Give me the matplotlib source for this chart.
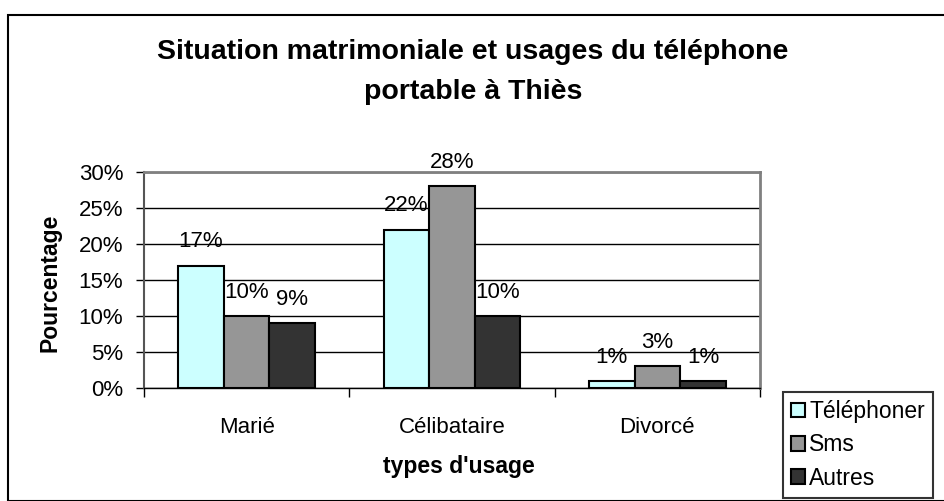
import matplotlib
matplotlib.use("Agg")
import matplotlib.pyplot as plt
import numpy as np
from matplotlib.patches import Rectangle

categories = ["Marié", "Célibataire", "Divorcé"]
series_names = ["Téléphoner", "Sms", "Autres"]
telephoner = [17, 22, 1]
sms = [10, 28, 3]
autres = [9, 10, 1]
yticks = [0, 5, 10, 15, 20, 25, 30]
colors = ["#CCFFFF", "#969696", "#333333"]

plt.rcParams['font.family'] = ['Liberation Sans', 'DejaVu Sans']

W, H = 944, 501
fig = plt.figure(figsize=(W / 100, H / 100), dpi=100)

# outer chart border
fig.patches.append(Rectangle((8 / W, 0), 1.2, (H - 15) / H, transform=fig.transFigure,
                             fill=False, edgecolor="#000000", linewidth=1.5))

ax = fig.add_axes([144 / W, (H - 388) / H, (760 - 144) / W, (388 - 172) / H])

x = np.arange(len(categories))
width = 1 / 4.5
data = [telephoner, sms, autres]
for i, (vals, col, name) in enumerate(zip(data, colors, series_names)):
    bars = ax.bar(x + (i - 1) * width, vals, width, color=col, edgecolor="black",
                  linewidth=1.5, label=name, zorder=3)
    for b, v in zip(bars, vals):
        ax.annotate(f"{v}%", (b.get_x() + b.get_width() / 2, v), xytext=(0, 17),
                    textcoords="offset points", ha="center", va="center",
                    fontsize=16, zorder=4)

ax.set_xlim(-0.5, 2.5)
ax.set_ylim(0, 30)
ax.set_yticks(yticks)
ax.set_yticklabels([f"{t}%" for t in yticks], fontsize=16)
ax.yaxis.grid(True, color="black", linewidth=1)
ax.set_axisbelow(True)
ax.set_xticks(x)
ax.set_xticklabels(categories, fontsize=16)
ax.tick_params(axis="x", length=0, pad=21)
ax.set_xticks([-0.5, 0.5, 1.5, 2.5], minor=True)
ax.tick_params(axis="x", which="minor", length=6.5, width=1, color="black")
ax.tick_params(axis="y", length=6, width=1, color="black", pad=9)

for s in ["top", "right"]:
    ax.spines[s].set_color("#808080")
    ax.spines[s].set_linewidth(2)
ax.spines["left"].set_color("#555555")
ax.spines["left"].set_linewidth(1.5)
ax.spines["bottom"].set_color("black")
ax.spines["bottom"].set_linewidth(1)

fig.text(473 / W, 1 - 52 / H, "Situation matrimoniale et usages du téléphone",
         ha="center", va="center", fontsize=20.5, fontweight="bold")
fig.text(473 / W, 1 - 92 / H, "portable à Thiès",
         ha="center", va="center", fontsize=20.5, fontweight="bold")
fig.text(50 / W, 1 - 283 / H, "Pourcentage", rotation=90, ha="center", va="center",
         fontsize=16.5, fontweight="bold")
fig.text(459 / W, 1 - 466 / H, "types d'usage", ha="center", va="center",
         fontsize=16.5, fontweight="bold")

leg = fig.legend(loc="upper left", bbox_to_anchor=(783 / W, 1 - 392 / H),
                 fontsize=16.5, frameon=True, fancybox=False, edgecolor="black",
                 handlelength=0.6, handleheight=0.6, handletextpad=0.2,
                 borderpad=0.35, labelspacing=0.45, borderaxespad=0)
leg.get_frame().set_linewidth(1.5)

fig.savefig("out.png", dpi=100)
